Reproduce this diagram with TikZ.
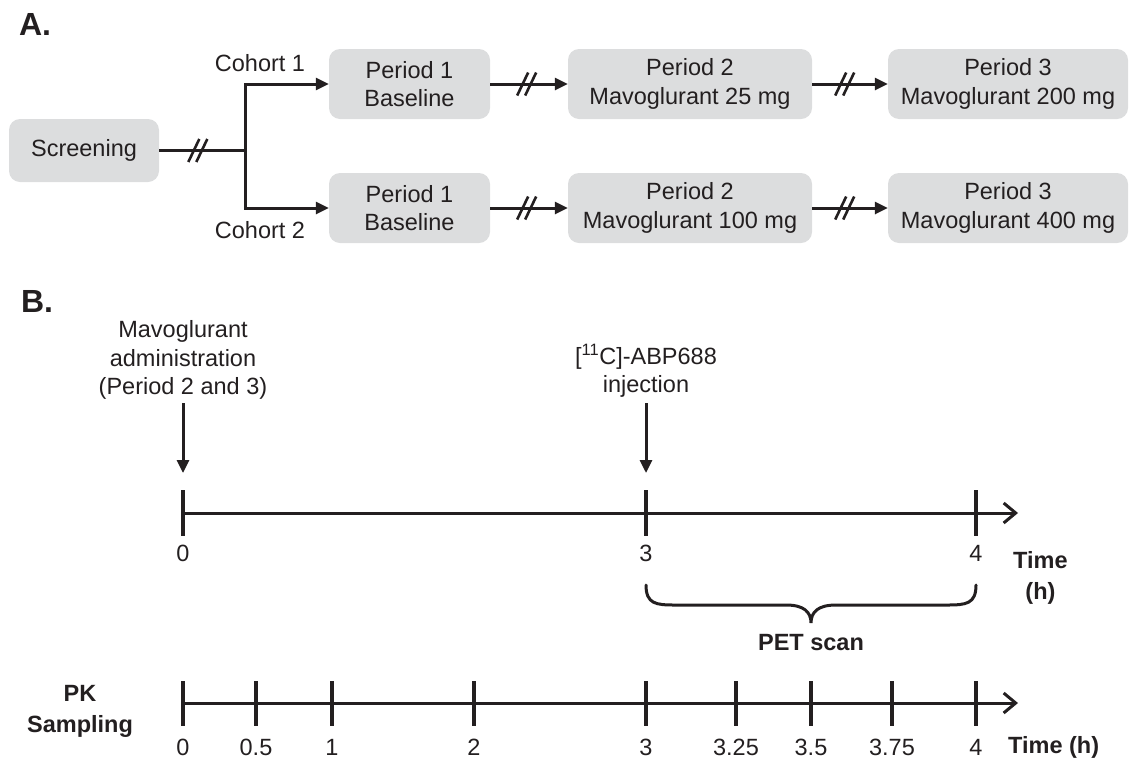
\documentclass[tikz,border=0pt]{standalone}
\usepackage{fontspec}
\setmainfont{Liberation Sans}
\usetikzlibrary{arrows.meta,decorations.markings}
\definecolor{ink}{HTML}{231F20}
\definecolor{boxgray}{HTML}{DCDDDE}
\begin{document}
\begin{tikzpicture}[x=1pt,y=-1pt,
  every node/.style={font=\fontsize{23.5}{28.5}\selectfont, text=ink, inner sep=0pt, align=center},
  box/.style={rectangle, rounded corners=11pt, fill=boxgray},
  conn/.style={draw=ink, line width=3pt},
  arr/.style={conn, -{Triangle[length=13pt,width=12pt]}},
  tl/.style={conn, -{Straight Barb[length=12pt,width=20pt,line width=3pt]}},
  tick/.style={draw=ink, line width=3.3pt},
  bold/.style={font=\fontsize{23.5}{31}\selectfont\bfseries},
  head/.style={font=\fontsize{32}{36}\selectfont\bfseries},
  brk/.style={postaction={decorate, decoration={markings, mark=at position #1 with {
      \draw[-, ink, line width=2.6pt] (-9.5,11.5) -- (1.5,-11.5);
      \draw[-, ink, line width=2.6pt] (-1.5,11.5) -- (9.5,-11.5);}}}},
]
\useasboundingbox (0,0) rectangle (1131,761);

% ---------- A ----------
\node[head] (hA) at (35,24) {A.};
\node[box, minimum width=150pt, minimum height=63pt] (scr) at (84,150.5) {Screening};
\node[box, minimum width=161pt, minimum height=70pt] (p1a) at (409.5,84) {Period 1\\Baseline};
\node[box, minimum width=244pt, minimum height=70pt] (p2a) at (690,84) {Period 2\\Mavoglurant 25 mg};
\node[box, minimum width=240pt, minimum height=70pt] (p3a) at (1008,84) {Period 3\\Mavoglurant 200 mg};
\node[box, minimum width=161pt, minimum height=70pt] (p1b) at (409.5,208) {Period 1\\Baseline};
\node[box, minimum width=244pt, minimum height=70pt] (p2b) at (690,208) {Period 2\\Mavoglurant 100 mg};
\node[box, minimum width=240pt, minimum height=70pt] (p3b) at (1008,208) {Period 3\\Mavoglurant 400 mg};
\node (c1) at (260,63) {Cohort 1};
\node (c2) at (260,230) {Cohort 2};

\coordinate (jn) at (245,150.5);
\coordinate (jt) at (245,84);
\coordinate (jb) at (245,208);
\draw[conn, brk=0.45] (scr.east) -- (jn);
\draw[conn, line cap=rect] (jt) -- (jb);
\draw[arr] (jt) -- (p1a.west);
\draw[arr] (jb) -- (p1b.west);
\draw[arr, brk=0.47] (p1a.east) -- (p2a.west);
\draw[arr, brk=0.43] (p2a.east) -- (p3a.west);
\draw[arr, brk=0.47] (p1b.east) -- (p2b.west);
\draw[arr, brk=0.43] (p2b.east) -- (p3b.west);

% ---------- B ----------
\node[head] (hB) at (37,301) {B.};
\node (madm) at (183,360) {Mavoglurant\\administration\\(Period 2 and 3)};
\node (inj) at (646,371) {[\textsuperscript{11}C]-ABP688\\injection};
\coordinate (ma1) at (183,403);
\coordinate (ma2) at (183,473);
\coordinate (ia1) at (646,403);
\coordinate (ia2) at (646,473);
\draw[arr] (ma1) -- (ma2);
\draw[arr] (ia1) -- (ia2);

% upper timeline
\coordinate (u0) at (183,513);
\coordinate (uend) at (1018,513);
\draw[tl] (u0) -- (uend);
\foreach \x/\n/\l in {183/ua/0, 646/ub/3, 976/uc/4}{
  \draw[tick] (\x,490) -- (\x,536);
  \node (\n) at (\x,553) {\l};
}
\node[bold, anchor=west] (ut) at (1013,578) {Time\\(h)};

% brace
\draw[conn, line cap=round] (646,585) .. controls (646,604) and (656,605) .. (675,605)
  -- (786,605) .. controls (804,605) and (811,612) .. (811,623)
  .. controls (811,612) and (818,605) .. (836,605) -- (947,605)
  .. controls (966,605) and (976,604) .. (976,585);
\node[bold] (pet) at (811,643) {PET scan};

% lower timeline
\node[bold] (pk) at (80,711) {PK\\Sampling};
\coordinate (l0) at (183,703);
\coordinate (lend) at (1018,703);
\draw[tl] (l0) -- (lend);
\foreach \x/\n/\l in {183/la/0, 256/lb/0.5, 332/lc/1, 474/ld/2, 646/le/3, 736/lf/3.25, 811/lg/3.5, 892/lh/3.75, 976/li/4}{
  \draw[tick] (\x,681) -- (\x,726);
  \node (\n) at (\x,747) {\l};
}
\node[bold, anchor=west] (lt) at (1008,747) {Time (h)};
\end{tikzpicture}
\end{document}
